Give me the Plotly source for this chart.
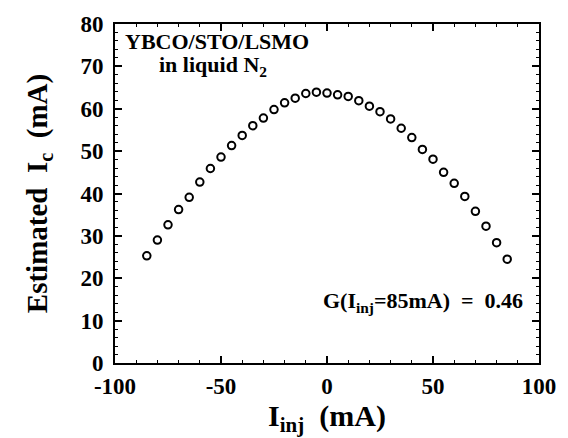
import plotly.graph_objects as go

# Injection current (mA) and estimated critical current (mA)
i_inj = [-85, -80, -75, -70, -65, -60, -55, -50, -45, -40, -35, -30, -25, -20,
         -15, -10, -5, 0, 5, 10, 15, 20, 25, 30, 35, 40, 45, 50, 55, 60, 65,
         70, 75, 80, 85]
ic_est = [25.3, 29.0, 32.6, 36.2, 39.1, 42.7, 45.9, 48.6, 51.3, 53.7, 56.0,
          57.8, 59.8, 61.4, 62.5, 63.6, 63.9, 63.7, 63.3, 62.9, 61.9, 60.6,
          59.3, 57.6, 55.4, 53.2, 50.4, 48.1, 45.0, 42.4, 39.3, 35.8, 32.3,
          28.4, 24.5]

x_ticks = [-100, -50, 0, 50, 100]
x_tick_text = ["-100", "-50", "0", "50", "100"]
y_ticks = [0, 10, 20, 30, 40, 50, 60, 70, 80]

FONT = "Liberation Serif"

fig = go.Figure()
fig.add_trace(go.Scatter(
    x=i_inj, y=ic_est, mode="markers",
    marker=dict(symbol="circle-open", size=7.5, color="black",
                line=dict(width=2, color="black")),
    showlegend=False,
))

axis_common = dict(
    showgrid=False, zeroline=False, showline=True, linecolor="black",
    linewidth=2, mirror="allticks", ticks="inside", ticklen=7,
    tickwidth=1.5, tickcolor="black",
    tickfont=dict(family=FONT, size=23, color="black", weight="bold"),
)

fig.update_xaxes(
    range=[-100, 100], tickvals=x_ticks, ticktext=x_tick_text,
    ticklabelstandoff=1,
    minor=dict(dtick=10, ticks="inside", ticklen=3, tickcolor="black",
               tickwidth=1),
    title=dict(text="I<sub>inj</sub>  (mA)", standoff=3,
               font=dict(family=FONT, size=30, color="black", weight="bold")),
    **axis_common,
)
fig.update_yaxes(
    range=[0, 80], tickvals=y_ticks, ticklabelstandoff=5,
    minor=dict(dtick=2, ticks="inside", ticklen=3, tickcolor="black",
               tickwidth=1),
    title=dict(text="Estimated  I<sub>c</sub>  (mA)", standoff=24,
               font=dict(family=FONT, size=29, color="black", weight="bold")),
    **axis_common,
)

label_font = dict(family=FONT, size=22, color="black", weight="bold")
fig.add_annotation(x=-96.3, y=75.8, text="YBCO/STO/LSMO", showarrow=False,
                   xanchor="left", yanchor="middle", font=label_font)
fig.add_annotation(x=-80.1, y=70.2, text="in liquid N<sub>2</sub>",
                   showarrow=False, xanchor="left", yanchor="middle",
                   font=label_font)
fig.add_annotation(x=-3.0, y=14.5,
                   text="G(I<sub>inj</sub>=85mA)  =  0.46", showarrow=False,
                   xanchor="left", yanchor="middle", font=label_font)

fig.update_layout(
    width=568, height=438,
    margin=dict(l=115, r=20, t=16, b=75),
    paper_bgcolor="white", plot_bgcolor="white",
)

fig.write_html("out.html")
